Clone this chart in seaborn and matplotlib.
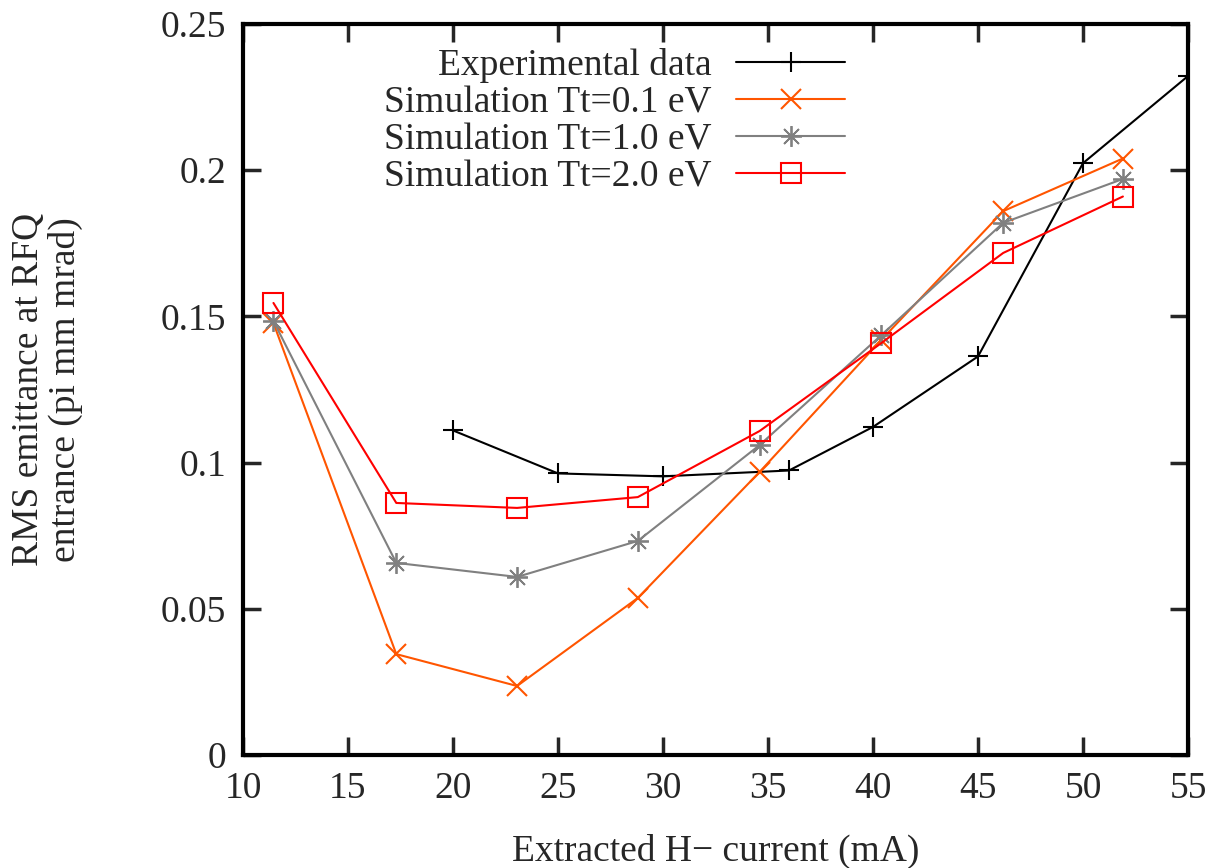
import matplotlib
matplotlib.use("Agg")
import matplotlib.pyplot as plt
import seaborn as sns
import pandas as pd
from matplotlib.ticker import FuncFormatter

exp_x = [20, 25, 30, 36, 40, 45, 50, 55]
exp_y = [0.111, 0.0963, 0.0953, 0.0973, 0.1122, 0.1363, 0.2024, 0.2322]

sim_x = [11.45, 17.3, 23.05, 28.8, 34.6, 40.4, 46.2, 51.9]
sim01_y = [0.1477, 0.0345, 0.0236, 0.0537, 0.0968, 0.1420, 0.1860, 0.2040]
sim10_y = [0.1484, 0.0657, 0.0609, 0.0732, 0.1060, 0.1436, 0.1820, 0.1970]
sim20_y = [0.1546, 0.0862, 0.0845, 0.0882, 0.1108, 0.1409, 0.1717, 0.1910]

labels = ["Experimental data", "Simulation Tt=0.1 eV",
          "Simulation Tt=1.0 eV", "Simulation Tt=2.0 eV"]
colors = ["#000000", "#FF5500", "#808080", "#FF0000"]
markers = ["+", "x", (8, 2, 0), "s"]
msizes = [15, 15, 15, 14]
mews = [1.5, 1.5, 1.3, 1.5]

sns.set_theme(style="ticks")
plt.rcParams["font.family"] = ["Liberation Serif", "DejaVu Serif"]

FS = 27

fig = plt.figure(figsize=(12.14, 8.68), dpi=100)
ax = fig.add_axes([243/1214, 1-755/868, (1188-243)/1214, (755-24)/868])

series = [(exp_x, exp_y), (sim_x, sim01_y), (sim_x, sim10_y), (sim_x, sim20_y)]
for (xs, ys), lab, c, m, ms, mew in zip(series, labels, colors, markers, msizes, mews):
    df = pd.DataFrame({"x": xs, "y": ys})
    sns.lineplot(data=df, x="x", y="y", ax=ax, color=c, marker=m,
                 markersize=ms, markeredgewidth=mew,
                 markerfacecolor="none" if m == "s" else c,
                 markeredgecolor=c, linewidth=1.5, label=lab,
                 sort=False, estimator=None)

ax.set_xlim(10, 55)
ax.set_ylim(0, 0.25)
ax.set_xticks(range(10, 56, 5))
ax.set_yticks([0, 0.05, 0.1, 0.15, 0.2, 0.25])
ax.yaxis.set_major_formatter(FuncFormatter(lambda v, p: "0" if v == 0 else f"{v:g}"))
ax.tick_params(direction="in", length=13, width=2.5, labelsize=FS,
               top=True, right=True, pad=12)
for s in ax.spines.values():
    s.set_linewidth(3)
    s.set_color("black")

ax.set_xlabel("Extracted H\u2212 current (mA)", fontsize=FS, labelpad=20)
ax.set_ylabel("RMS emittance at RFQ\nentrance (pi mm mrad)", fontsize=FS,
              labelpad=56, linespacing=1.08)

leg = ax.legend(loc="upper right", bbox_to_anchor=(845/1214, 1-48/868),
                bbox_transform=fig.transFigure, frameon=False,
                markerfirst=False, fontsize=FS, handlelength=2.9,
                handletextpad=0.67, labelspacing=0.07, borderaxespad=0,
                borderpad=0)
for col in leg._legend_handle_box.get_children():
    col.align = "right"

fig.savefig("out.png", dpi=100)
